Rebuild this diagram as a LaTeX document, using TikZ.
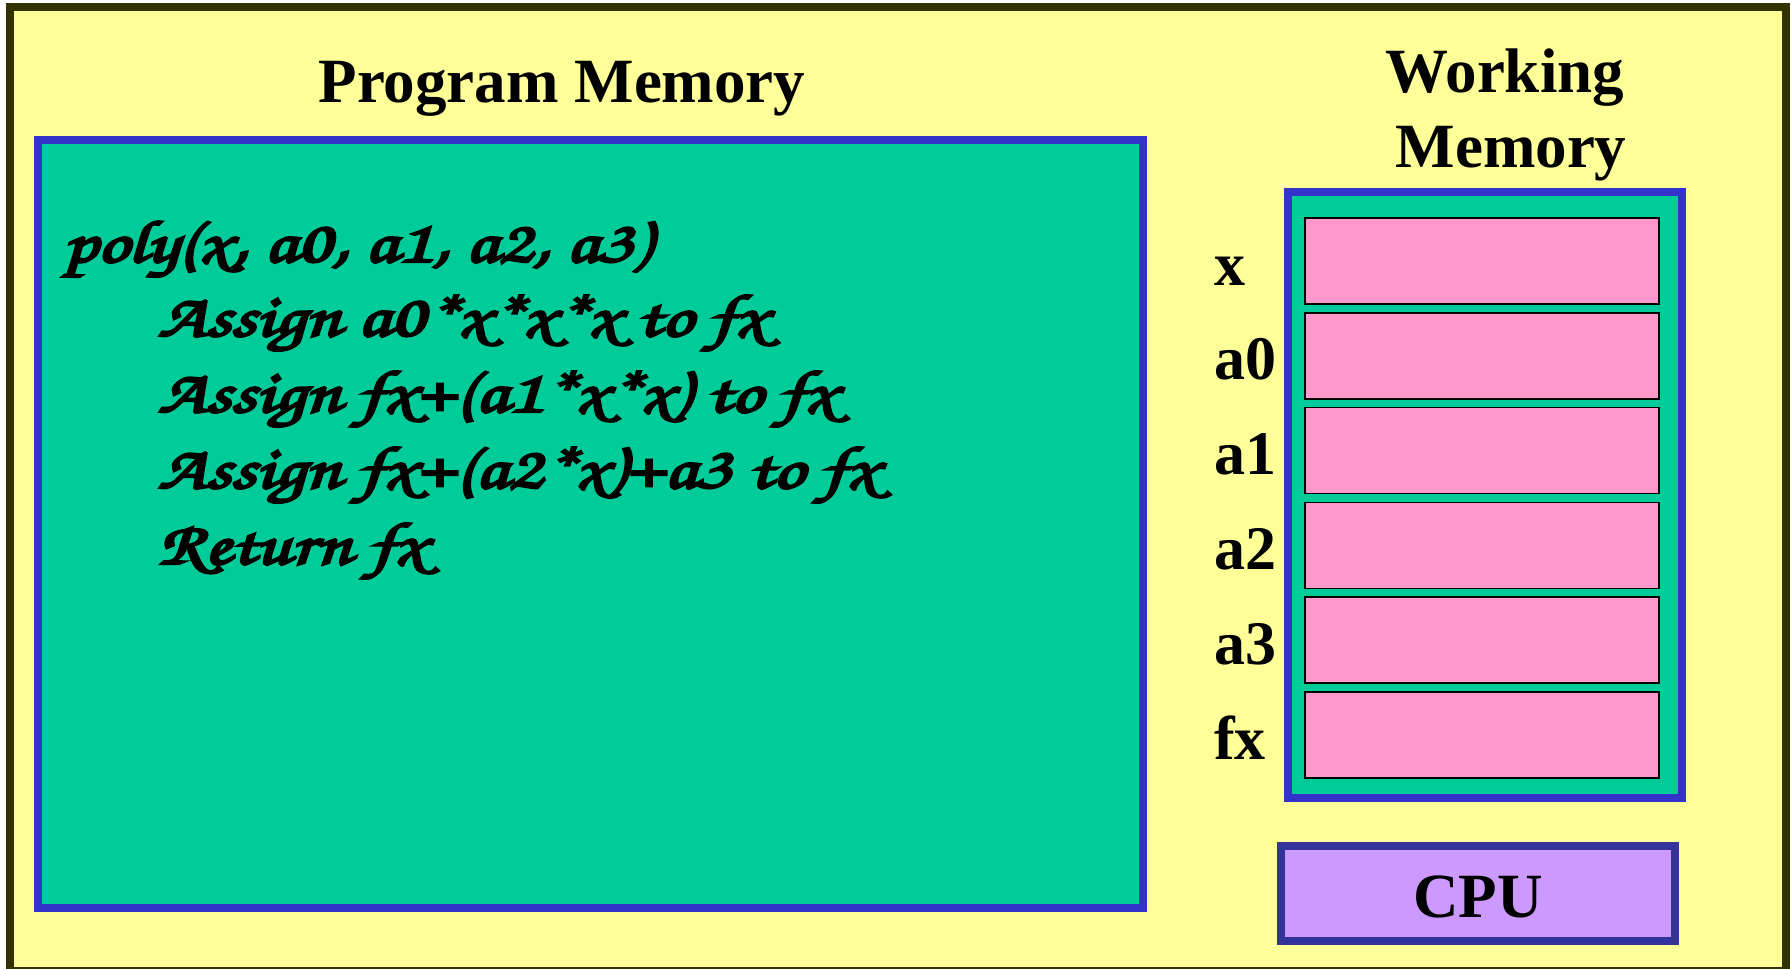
\documentclass[tikz,border=0pt]{standalone}
\usepackage{fontspec}
\usepackage{graphicx}
\setmainfont{Liberation Serif}
\newfontfamily\chorusfont[FakeBold=4]{texgyrechorus-mediumitalic.otf}
\definecolor{pagebg}{HTML}{FFFF99}
\definecolor{framecol}{HTML}{333300}
\definecolor{memgreen}{HTML}{00CC99}
\definecolor{memblue}{HTML}{3333CC}
\definecolor{cellpink}{HTML}{FF99CC}
\definecolor{cpufill}{HTML}{CC99FF}
\definecolor{cpuedge}{HTML}{333399}
\newcommand{\codefont}{\chorusfont\fontsize{60}{72}\selectfont}
\newcommand{\titlefont}{\bfseries\fontsize{63}{76}\selectfont}
\newcommand{\labelfont}{\bfseries\fontsize{62}{74}\selectfont}
% widened brush lettering for the code lines
\newcommand{\brush}[1]{\scalebox{1.29}[1]{#1}}
\tikzset{
  membox/.style={draw=memblue, fill=memgreen, line width=8pt},
  cellbox/.style={draw=black, fill=cellpink, line width=1.5pt},
  cpubox/.style={draw=cpuedge, fill=cpufill, line width=8pt},
  title/.style={font=\titlefont, anchor=base, inner sep=0pt},
  varlabel/.style={font=\labelfont, anchor=base west, inner sep=0pt},
  codeline/.style={font=\codefont, anchor=base west, inner sep=0pt},
}
\begin{document}
\begin{tikzpicture}[x=1pt, y=-1pt]
  \useasboundingbox (0,0) rectangle (1791,969);
  \fill[white] (0,0) rectangle (1791,969);
  % page background and frame
  \begin{scope}
    \clip (0,0) rectangle (1791,969);
    \draw[framecol, fill=pagebg, line width=8pt] (10,7) rectangle (1786,971);
  \end{scope}

  % program memory
  \node[title] (pmtitle) at (562,102) {Program Memory};
  \draw[membox] (38,140) rectangle (1143,908);
  \node[codeline] (l1) at (63,262) {\brush{poly(x, a0, a1, a2, a3)}};
  \node[codeline] (l2) at (158,336) {\brush{Assign a0*x*x*x to fx}};
  \node[codeline] (l3) at (158,412) {\brush{Assign fx+(a1*x*x) to fx}};
  \node[codeline] (l4) at (158,488) {\brush{Assign fx+(a2*x)+a3 to fx}};
  \node[codeline] (l5) at (158,564) {\brush{Return fx}};

  % working memory
  \node[title] (wmtitle1) at (1505,92) {Working};
  \node[title] (wmtitle2) at (1511,167) {Memory};
  \draw[membox] (1288,192) rectangle (1682,798);
  \foreach \name [count=\i from 0] in {x,a0,a1,a2,a3,fx} {
    \pgfmathsetmacro{\celltop}{218+94.8*\i}
    \draw[cellbox] (1305,\celltop) rectangle (1659,\celltop+86);
    \node[varlabel] (lab-\name) at (1214,\celltop+67) {\name};
  }

  % processor
  \draw[cpubox] (1281,846) rectangle (1675,941);
  \node[font=\titlefont, inner sep=0pt, anchor=base] (cpu) at (1478,917) {CPU};
\end{tikzpicture}
\end{document}
